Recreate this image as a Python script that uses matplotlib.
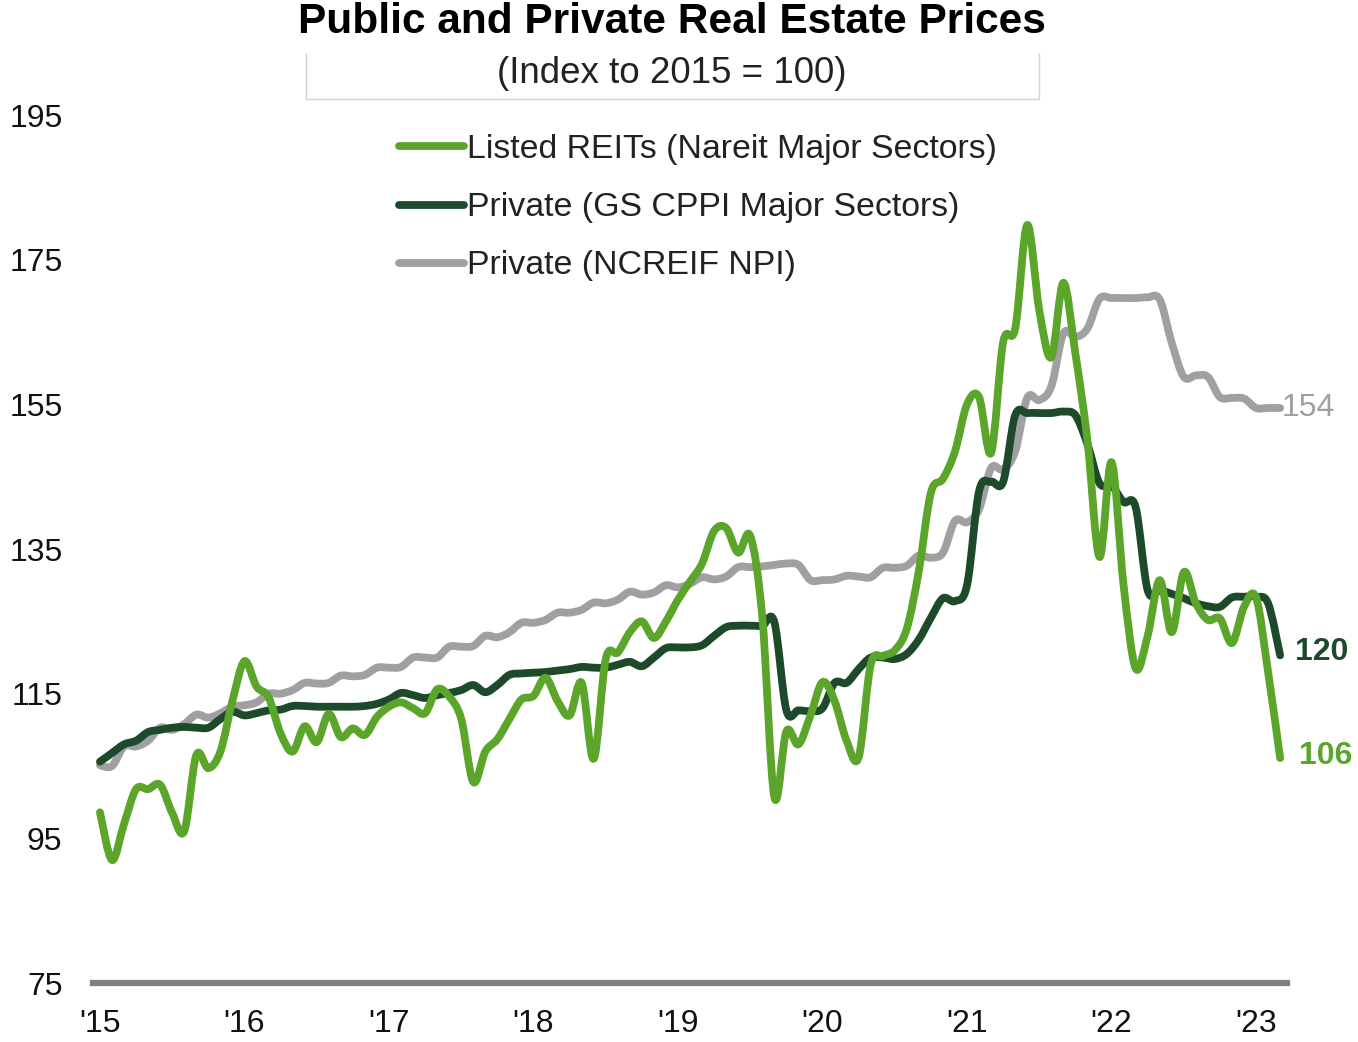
import matplotlib.pyplot as plt
import matplotlib.patches as patches
from matplotlib.path import Path
from matplotlib.lines import Line2D
import numpy as np

plt.rcParams['font.family'] = ['Liberation Sans', 'DejaVu Sans']

# monthly, Jan 2015 .. Mar 2023
reits = [98.6, 92.0, 97.0, 101.8, 101.8, 102.4, 98.5, 96.0, 106.5, 104.7,
         107.0, 114.0, 119.5, 116.0, 114.5, 109.5, 107.0, 110.5, 108.3, 112.2,
         109.0, 110.2, 109.3, 111.8, 113.2, 113.8, 113.0, 112.3, 115.6, 114.6,
         111.5, 102.8, 107.0, 108.7, 111.5, 114.2, 114.7, 117.2, 114.0, 112.0,
         116.5, 106.0, 119.8, 120.7, 123.5, 125.0, 122.7, 125.0, 128.0, 130.5,
         133.0, 137.5, 137.9, 134.5, 136.8, 125.6, 100.7, 109.8, 108.0, 112.0,
         116.6, 114.0, 108.5, 106.2, 119.0, 120.2, 121.0, 124.0, 132.0, 142.8,
         144.7, 148.5, 155.0, 156.0, 148.3, 163.6, 165.5, 179.8, 168.0, 161.5,
         171.8, 162.0, 150.0, 133.9, 147.0, 130.0, 118.5, 123.0, 130.7, 123.5,
         131.8, 127.5, 125.2, 125.4, 122.0, 127.0, 128.3, 118.0, 106.1]

gs_cppi = [105.6, 106.8, 108.0, 108.5, 109.7, 110.0, 110.3, 110.4, 110.3, 110.3,
           111.5, 112.5, 112.0, 112.3, 112.7, 112.8, 113.3, 113.3, 113.2, 113.2,
           113.2, 113.2, 113.3, 113.6, 114.2, 115.1, 114.8, 114.4, 114.8, 115.1,
           115.5, 116.2, 115.2, 116.2, 117.6, 117.8, 117.9, 118.0, 118.2, 118.4,
           118.7, 118.6, 118.6, 119.0, 119.4, 118.8, 120.0, 121.3, 121.4, 121.4,
           121.7, 123.0, 124.2, 124.4, 124.4, 124.4, 124.9, 112.7, 112.7, 112.6,
           113.0, 116.5, 116.5, 118.4, 120.0, 120.0, 119.8, 120.5, 122.5, 125.5,
           128.2, 127.8, 130.0, 143.0, 144.3, 144.3, 153.5, 153.8, 153.8, 153.8,
           154.0, 153.5, 149.5, 144.1, 143.8, 141.5, 140.8, 129.3, 129.3, 128.8,
           128.2, 127.5, 127.1, 127.0, 128.3, 128.4, 128.4, 127.5, 120.3]

ncreif = [105.1, 105.0, 107.7, 107.7, 108.5, 110.3, 110.0, 110.8, 112.1, 111.7,
          112.3, 113.2, 113.4, 113.8, 115.0, 115.0, 115.5, 116.5, 116.4, 116.5,
          117.5, 117.4, 117.6, 118.6, 118.6, 118.7, 120.0, 120.0, 120.0, 121.5,
          121.5, 121.6, 123.0, 122.8, 123.5, 124.8, 124.8, 125.2, 126.2, 126.2,
          126.6, 127.6, 127.5, 128.0, 129.1, 128.7, 129.0, 130.0, 129.7, 130.2,
          131.1, 130.8, 131.2, 132.5, 132.5, 132.6, 132.8, 133.0, 132.8, 130.7,
          130.7, 130.8, 131.3, 131.2, 131.1, 132.4, 132.4, 132.7, 134.1, 133.8,
          134.5, 138.9, 138.7, 140.5, 146.2, 146.0, 148.5, 155.9, 155.6, 157.5,
          164.8, 164.3, 165.5, 169.6, 169.7, 169.7, 169.7, 169.8, 169.5, 163.5,
          158.8, 159.0, 158.8, 156.0, 155.9, 155.8, 154.5, 154.5, 154.5]

labels = ['Listed REITs (Nareit Major Sectors)',
          'Private (GS CPPI Major Sectors)',
          'Private (NCREIF NPI)']
colors = ['#5aa52a', '#1c4a2a', '#a0a0a3']
year_ticks = list(range(2015, 2024))
year_labels = ["'15", "'16", "'17", "'18", "'19", "'20", "'21", "'22", "'23"]

t = 2015 + np.arange(len(reits)) / 12


def smooth_line(ax, x, y, color, z):
    # excel style smoothed line: catmull-rom segments as cubic beziers
    pts = np.column_stack([x, y])
    n = len(pts)
    verts = [pts[0]]
    codes = [Path.MOVETO]
    for i in range(n - 1):
        p0 = pts[i - 1] if i > 0 else pts[i]
        p1 = pts[i]
        p2 = pts[i + 1]
        p3 = pts[i + 2] if i + 2 < n else pts[i + 1]
        verts += [p1 + (p2 - p0) / 6, p2 - (p3 - p1) / 6, p2]
        codes += [Path.CURVE4] * 3
    pp = patches.PathPatch(Path(verts, codes), fill=False, edgecolor=color, lw=5.6,
                           capstyle='round', joinstyle='round', zorder=z)
    ax.add_patch(pp)


fig = plt.figure(figsize=(13.58, 10.42), dpi=100)
ax = fig.add_axes([0.0685, 0.0566, 0.8792, 0.833])

smooth_line(ax, t, ncreif, colors[2], 2)
smooth_line(ax, t, gs_cppi, colors[1], 3)
smooth_line(ax, t, reits, colors[0], 4)

ax.set_xlim(2014.952, 2023.214)
ax.set_ylim(75, 195)
ax.set_yticks(range(75, 196, 20))
ax.set_xticks(year_ticks)
ax.set_xticklabels(year_labels)
ax.tick_params(axis='both', length=0, labelsize=23, colors='#111111')
ax.tick_params(axis='y', pad=22)
ax.tick_params(axis='x', pad=19)
for s in ['top', 'right', 'left']:
    ax.spines[s].set_visible(False)
ax.spines['bottom'].set_color('#808080')
ax.spines['bottom'].set_linewidth(4.5)

# end labels
ax.text(t[-1] + 0.01, ncreif[-1], '154', color=colors[2], fontsize=23, va='center', ha='left')
ax.text(t[-1] + 0.10, gs_cppi[-1] + 0.5, '120', color=colors[1], fontsize=23, fontweight='bold', va='center', ha='left')
ax.text(t[-1] + 0.13, reits[-1] + 0.3, '106', color=colors[0], fontsize=23, fontweight='bold', va='center', ha='left')

# legend
handles = [Line2D([], [], color=c, lw=5.6, solid_capstyle='round') for c in colors]
leg = ax.legend(handles, labels, loc='upper left', bbox_to_anchor=(0.231, 1.013),
                frameon=False, fontsize=24.4, handlelength=1.9, handletextpad=0.1,
                labelspacing=0.8, labelcolor='#222222')

# title box
fig.patches.append(patches.Rectangle((306 / 1358, 1 - 99 / 1042), 733 / 1358, 99 / 1042 + 0.01,
                                     transform=fig.transFigure, facecolor='white',
                                     edgecolor='#d4d4d4', lw=1, zorder=0))
fig.text(0.495, 1 - 22 / 1042, 'Public and Private Real Estate Prices', ha='center', va='center',
         fontsize=30.5, fontweight='bold',
         bbox=dict(facecolor='white', edgecolor='none', pad=8))
fig.text(0.495, 1 - 73 / 1042, '(Index to 2015 = 100)', ha='center', va='center',
         fontsize=26.5, color='#222222')

plt.savefig('out.png', dpi=100)
